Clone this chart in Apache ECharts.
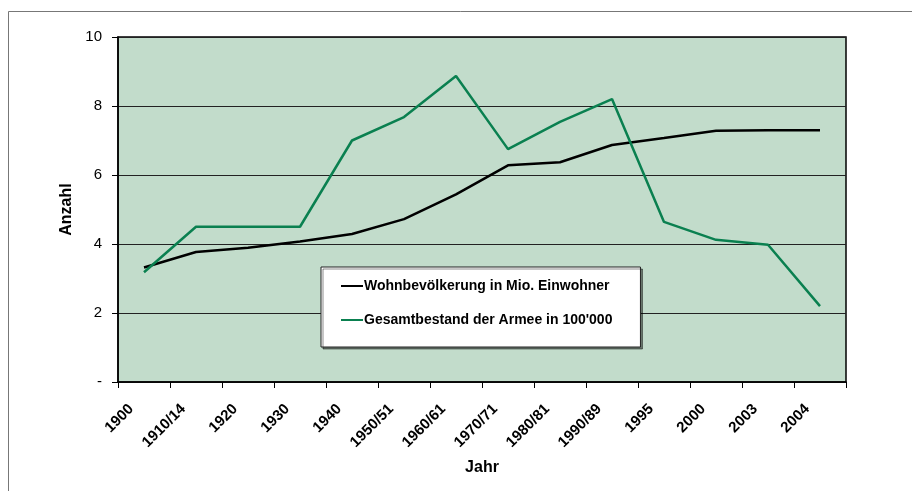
<!DOCTYPE html>
<html>
<head>
<meta charset="utf-8">
<script src="https://cdn.jsdelivr.net/npm/echarts@6/dist/echarts.min.js"></script>
<style>
  html, body { margin: 0; padding: 0; background: #fff; }
  #chart { width: 912px; height: 491px; }
</style>
</head>
<body>
<div id="chart"></div>
<script>
const years = ['1900', '1910/14', '1920', '1930', '1940', '1950/51', '1960/61',
  '1970/71', '1980/81', '1990/89', '1995', '2000', '2003', '2004']
const population = [3.32, 3.77, 3.89, 4.07, 4.29, 4.72, 5.44, 6.28, 6.37, 6.87, 7.07, 7.28, 7.30, 7.30]
const army = [3.18, 4.5, 4.5, 4.5, 7.0, 7.68, 8.87, 6.75, 7.54, 8.2, 4.64, 4.12, 3.98, 2.2]

const font = 'Liberation Sans, Arial, sans-serif'
const chart = echarts.init(document.getElementById('chart'))

chart.setOption({
  animation: false,
  backgroundColor: '#fff',
  graphic: [{
    type: 'rect',
    shape: { x: 8.5, y: 11.5, width: 920, height: 500 },
    style: { fill: 'none', stroke: '#777', lineWidth: 1 },
    silent: true
  }],
  grid: {
    left: 118, right: 66, top: 37, bottom: 109,
    show: true,
    backgroundColor: '#c2dccb',
    borderColor: '#000',
    borderWidth: 1.5
  },
  legend: {
    orient: 'vertical',
    left: 321, top: 267,
    itemGap: 20,
    itemWidth: 22,
    itemHeight: 2,
    padding: [12, 28, 20, 20],
    backgroundColor: '#fff',
    borderColor: '#222',
    borderWidth: 1,
    shadowColor: 'rgba(0,0,0,0.45)',
    shadowOffsetX: 2,
    shadowOffsetY: 2,
    icon: 'rect',
    textStyle: { fontFamily: font, fontSize: 14, fontWeight: 'bold', color: '#000', padding: [0, 0, 0, -4] },
    data: ['Wohnbevölkerung in Mio. Einwohner', 'Gesamtbestand der Armee in 100\'000']
  },
  xAxis: {
    type: 'category',
    data: years,
    boundaryGap: true,
    name: 'Jahr',
    nameLocation: 'middle',
    nameGap: 78,
    nameTextStyle: { fontFamily: font, fontSize: 16, fontWeight: 'bold', color: '#000' },
    axisLine: { lineStyle: { color: '#000', width: 1.5 } },
    axisTick: { show: true, length: 6, lineStyle: { color: '#000' } },
    axisLabel: {
      interval: 0, rotate: 45, margin: 12, padding: [0, 18, 0, 0],
      fontFamily: font, fontSize: 15, fontWeight: 'bold', color: '#000'
    },
    splitLine: { show: false }
  },
  yAxis: {
    type: 'value',
    min: 0, max: 10, interval: 2,
    name: 'Anzahl',
    nameLocation: 'middle',
    nameGap: 38,
    nameTextStyle: { fontFamily: font, fontSize: 16, fontWeight: 'bold', color: '#000' },
    axisLine: { show: true, lineStyle: { color: '#000', width: 1.5 } },
    axisTick: { show: true, length: 6, lineStyle: { color: '#000' } },
    axisLabel: {
      margin: 16,
      fontFamily: font, fontSize: 15, color: '#000',
      formatter: v => (v === 0 ? '-' : String(v))
    },
    splitLine: { show: true, lineStyle: { color: '#222', width: 1 } }
  },
  series: [
    {
      name: 'Wohnbevölkerung in Mio. Einwohner',
      type: 'line',
      data: population,
      symbol: 'none',
      color: '#000',
      lineStyle: { color: '#000', width: 2.5 }
    },
    {
      name: 'Gesamtbestand der Armee in 100\'000',
      type: 'line',
      data: army,
      symbol: 'none',
      color: '#0a8050',
      lineStyle: { color: '#0a8050', width: 2.5 }
    }
  ]
})
</script>
</body>
</html>
